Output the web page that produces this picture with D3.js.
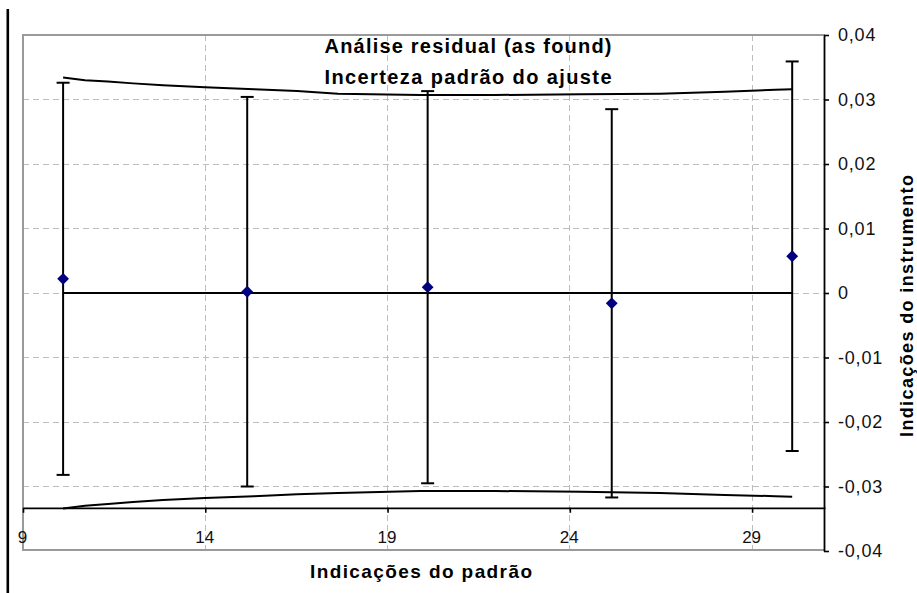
<!DOCTYPE html>
<html>
<head>
<meta charset="utf-8">
<script src="https://cdn.jsdelivr.net/npm/d3@7"></script>
<style>
  html, body { margin: 0; padding: 0; background: #fff; }
  svg { display: block; }
</style>
</head>
<body>
<svg id="chart" width="917" height="593"></svg>
<script>
// Residuals at each standard indication
const xValues = [10.1, 15.15, 20.1, 25.15, 30.1];
const residuals = [0.0022, 0.0002, 0.0009, -0.0016, 0.0057];
const uncertainty = [0.0304, 0.0302, 0.0304, 0.0301, 0.0302];

// Standard uncertainty of the fit (upper / lower envelope)
const bandX = [10.1, 10.7, 11.33, 12.02, 12.84, 13.99, 15.34, 16.52, 17.64, 19.9, 21.95, 24.3, 26.47, 28.25, 29.63, 30.1];
const bandUpper = [0.0334, 0.0330, 0.0328, 0.0325, 0.0322, 0.0319, 0.0316, 0.0313, 0.0309, 0.0307, 0.0307, 0.0308, 0.0309, 0.0312, 0.0315, 0.0316];
const bandLower = [-0.0334, -0.0330, -0.0327, -0.0324, -0.0321, -0.0318, -0.0315, -0.0312, -0.0310, -0.0307, -0.0307, -0.0308, -0.0310, -0.0313, -0.0315, -0.0316];

// Axes
const xDomain = [9, 31];
const xTicks = [9, 14, 19, 24, 29];
const yDomain = [-0.04, 0.04];
const yTicks = [-0.04, -0.03, -0.02, -0.01, 0, 0.01, 0.02, 0.03, 0.04];
const yTickLabels = ["-0,04", "-0,03", "-0,02", "-0,01", "0", "0,01", "0,02", "0,03", "0,04"];
const xAxisCrossing = -0.0333;

const titleLines = ["Análise residual (as found)", "Incerteza padrão do ajuste"];
const xTitle = "Indicações do padrão";
const yTitle = "Indicações do instrumento";

const FONT = "'Liberation Sans', Arial, Helvetica, sans-serif";

const svg = d3.select("#chart");

const plot = { left: 23, right: 825, top: 35, bottom: 551 };
const x = d3.scaleLinear().domain(xDomain).range([plot.left, plot.right]);
const y = d3.scaleLinear().domain(yDomain).range([plot.bottom, plot.top]);

// thick rule at the left margin
svg.append("rect")
  .attr("x", 6.5).attr("y", 9)
  .attr("width", 2.6).attr("height", 584)
  .attr("fill", "#000");

// gridlines
const grid = svg.append("g")
  .attr("stroke", "#bdbdbd")
  .attr("stroke-width", 1)
  .attr("stroke-dasharray", "6,4")
  .attr("shape-rendering", "crispEdges");

grid.selectAll("line.h")
  .data(yTicks.filter(v => v > yDomain[0] && v < yDomain[1]))
  .join("line")
  .attr("class", "h")
  .attr("x1", plot.left).attr("x2", plot.right)
  .attr("y1", d => y(d)).attr("y2", d => y(d));

grid.selectAll("line.v")
  .data(xTicks.filter(v => v > xDomain[0]))
  .join("line")
  .attr("class", "v")
  .attr("y1", plot.top).attr("y2", plot.bottom - 1)
  .attr("x1", d => x(d)).attr("x2", d => x(d));

// plot frame (top, left, bottom)
svg.append("path")
  .attr("d", `M${plot.right},${plot.top}H${plot.left}V${plot.bottom - 1}H${plot.right}`)
  .attr("fill", "none")
  .attr("stroke", "#9a9a9a")
  .attr("stroke-width", 1.2)
  .attr("shape-rendering", "crispEdges");

// x axis, crossing the value axis near the bottom
const xAxis = d3.axisBottom(x)
  .tickValues(xTicks)
  .tickFormat(d3.format("d"))
  .tickSize(5)
  .tickSizeOuter(0)
  .tickPadding(18);

const gx = svg.append("g")
  .attr("transform", `translate(0,${y(xAxisCrossing)})`)
  .call(xAxis);
gx.select(".domain").attr("stroke", "#000").attr("stroke-width", 1.8);
gx.selectAll(".tick line").attr("stroke", "#000").attr("stroke-width", 1.6);
gx.selectAll(".tick text")
  .attr("font-family", FONT)
  .attr("font-size", 17)
  .attr("fill", "#111")
  .attr("dx", -1);

// y axis on the right
const yAxis = d3.axisRight(y)
  .tickValues(yTicks)
  .tickFormat((d, i) => yTickLabels[i])
  .tickSize(5)
  .tickSizeOuter(0)
  .tickPadding(9);

const gy = svg.append("g")
  .attr("transform", `translate(${plot.right - 1},0)`)
  .call(yAxis);
gy.select(".domain").attr("stroke", "#000").attr("stroke-width", 1.8);
gy.selectAll(".tick line").attr("stroke", "#000").attr("stroke-width", 1.6);
gy.selectAll(".tick text")
  .attr("font-family", FONT)
  .attr("font-size", 18)
  .attr("letter-spacing", 0.8)
  .attr("fill", "#111");

// zero reference line across the data range
const line = d3.line().x(d => x(d[0])).y(d => y(d[1]));
svg.append("path")
  .datum(xValues.map(v => [v, 0]))
  .attr("d", line)
  .attr("fill", "none")
  .attr("stroke", "#000")
  .attr("stroke-width", 1.8);

// uncertainty envelope
[bandUpper, bandLower].forEach(series => {
  svg.append("path")
    .datum(bandX.map((v, i) => [v, series[i]]))
    .attr("d", line)
    .attr("fill", "none")
    .attr("stroke", "#000")
    .attr("stroke-width", 2);
});

// error bars
const capHalf = 6.5;
const bars = svg.append("g")
  .attr("stroke", "#000")
  .attr("stroke-width", 2)
  .selectAll("g")
  .data(xValues.map((v, i) => ({ x: v, y: residuals[i], u: uncertainty[i] })))
  .join("g");

bars.append("line")
  .attr("x1", d => x(d.x)).attr("x2", d => x(d.x))
  .attr("y1", d => y(d.y + d.u)).attr("y2", d => y(d.y - d.u));
bars.append("line")
  .attr("x1", d => x(d.x) - capHalf).attr("x2", d => x(d.x) + capHalf)
  .attr("y1", d => y(d.y + d.u)).attr("y2", d => y(d.y + d.u));
bars.append("line")
  .attr("x1", d => x(d.x) - capHalf).attr("x2", d => x(d.x) + capHalf)
  .attr("y1", d => y(d.y - d.u)).attr("y2", d => y(d.y - d.u));

// residual markers (diamonds)
svg.append("g")
  .selectAll("path")
  .data(xValues.map((v, i) => [v, residuals[i]]))
  .join("path")
  .attr("d", d3.symbol(d3.symbolSquare, 70)())
  .attr("transform", d => `translate(${x(d[0])},${y(d[1])}) rotate(45)`)
  .attr("fill", "#000080");

// chart title
svg.append("g")
  .selectAll("text")
  .data(titleLines)
  .join("text")
  .attr("x", 468)
  .attr("y", (d, i) => 53 + i * 30.5)
  .attr("text-anchor", "middle")
  .attr("font-family", FONT)
  .attr("font-weight", "bold")
  .attr("font-size", 20)
  .attr("textLength", 287)
  .attr("lengthAdjust", "spacing")
  .attr("fill", "#000")
  .text(d => d);

// axis titles
svg.append("text")
  .attr("x", 421)
  .attr("y", 578)
  .attr("text-anchor", "middle")
  .attr("font-family", FONT)
  .attr("font-weight", "bold")
  .attr("font-size", 19)
  .attr("textLength", 222)
  .attr("lengthAdjust", "spacing")
  .attr("fill", "#000")
  .text(xTitle);

svg.append("text")
  .attr("transform", "translate(913,306) rotate(-90)")
  .attr("text-anchor", "middle")
  .attr("font-family", FONT)
  .attr("font-weight", "bold")
  .attr("font-size", 18)
  .attr("textLength", 262)
  .attr("lengthAdjust", "spacing")
  .attr("fill", "#000")
  .text(yTitle);
</script>
</body>
</html>
